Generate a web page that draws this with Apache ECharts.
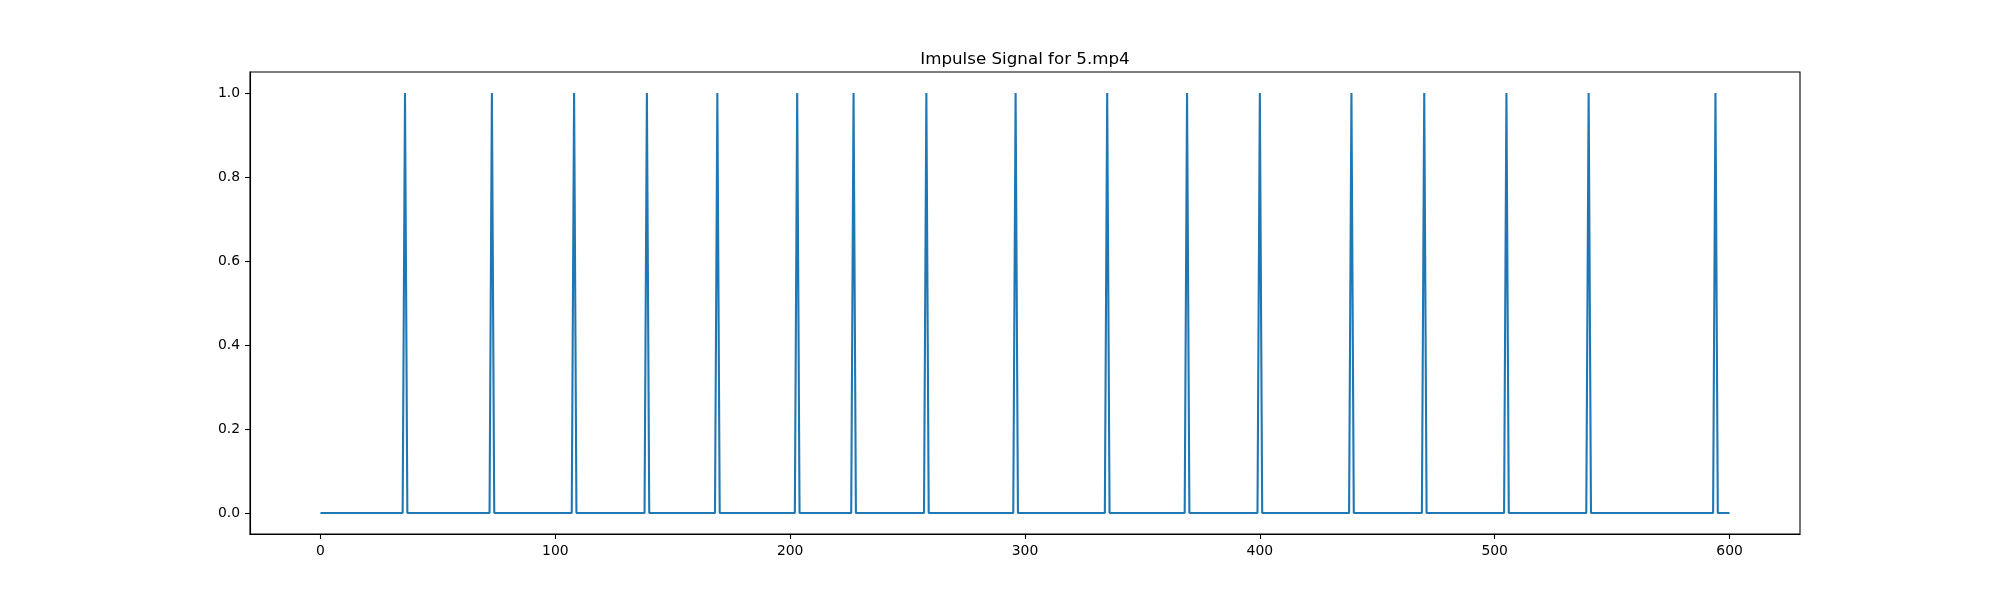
<!DOCTYPE html>
<html>
<head>
<meta charset="utf-8">
<script src="https://cdn.jsdelivr.net/npm/echarts@6/dist/echarts.min.js"></script>
<style>html,body{margin:0;padding:0;background:#fff;}#c{width:2000px;height:600px;}</style>
</head>
<body>
<div id="c"></div>
<script>
// Frame indices (0..600) where the impulse equals 1
var spikeFrames = [36, 73, 108, 139, 169, 203, 227, 258, 296, 335, 369, 400, 439, 470, 505, 540, 594];
var lastFrame = 600;
var xTicks = [0, 100, 200, 300, 400, 500, 600];
var yTicks = [0.0, 0.2, 0.4, 0.6, 0.8, 1.0];
var titleText = 'Impulse Signal for 5.mp4';

var data = [];
for (var i = 0; i <= lastFrame; i++) {
  data.push([i, spikeFrames.indexOf(i) >= 0 ? 1 : 0]);
}

var chart = echarts.init(document.getElementById('c'), null, {renderer: 'canvas'});
var font = 'DejaVu Sans';
chart.setOption({
  animation: false,
  backgroundColor: '#ffffff',
  title: {
    text: titleText,
    left: 1020, top: 46, textAlign: 'center',
    textStyle: {fontFamily: font, fontSize: 16.7, fontWeight: 'normal', color: '#000'}
  },
  grid: {
    left: 250, right: 200, top: 72, bottom: 66,
    show: true, borderColor: '#000', borderWidth: 1.1, backgroundColor: 'transparent'
  },
  xAxis: {
    type: 'value', min: -30, max: 630,
    splitLine: {show: false},
    axisLine: {show: true, onZero: false, lineStyle: {color: '#000', width: 1.1}},
    axisTick: {show: true, customValues: xTicks, length: 5, lineStyle: {color: '#000', width: 1.1}},
    axisLabel: {customValues: xTicks, margin: 10, fontFamily: font, fontSize: 13.9, color: '#000'}
  },
  yAxis: {
    type: 'value', min: -0.05, max: 1.05,
    splitLine: {show: false},
    axisLine: {show: true, onZero: false, lineStyle: {color: '#000', width: 1.1}},
    axisTick: {show: true, customValues: yTicks, length: 5, lineStyle: {color: '#000', width: 1.1}},
    axisLabel: {customValues: yTicks, margin: 10, fontFamily: font, fontSize: 13.9, color: '#000',
      formatter: function (v) { return v.toFixed(1); }}
  },
  series: [{
    type: 'line', data: data, showSymbol: false, symbol: 'none',
    lineStyle: {color: '#1f77b4', width: 2.1}, itemStyle: {color: '#1f77b4'}
  }]
});
</script>
</body>
</html>
